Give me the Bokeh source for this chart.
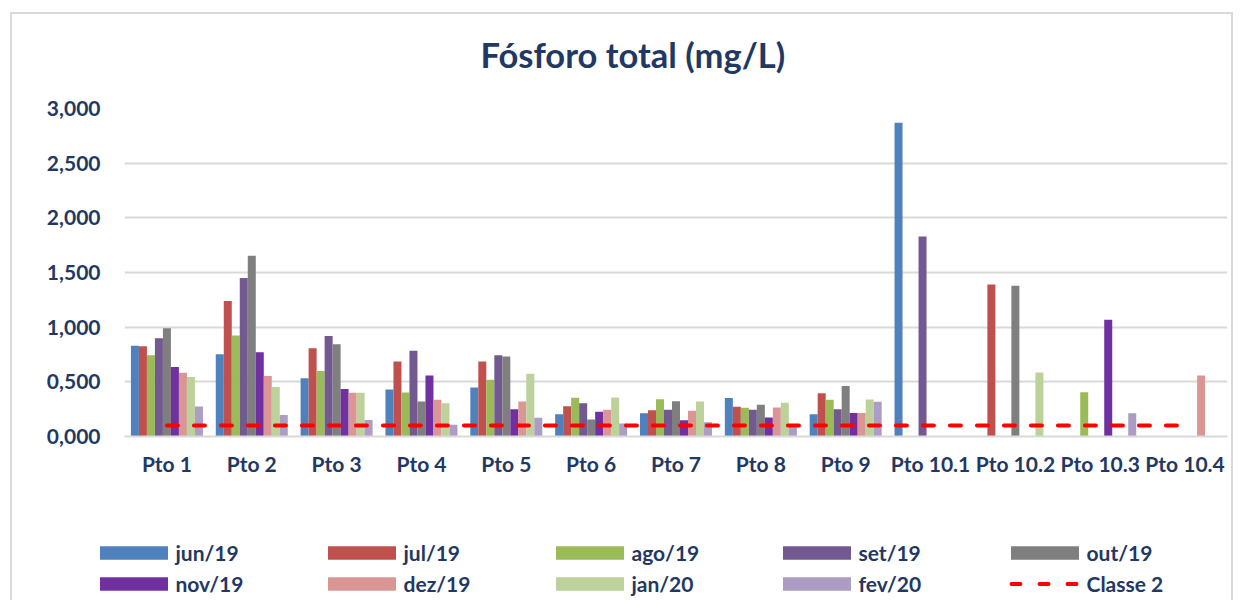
from bokeh.plotting import figure
from bokeh.layouts import column
from bokeh.models import (FactorRange, Range1d, Legend, LegendItem, ColumnDataSource,
                          FixedTicker)
from bokeh.transform import dodge
from bokeh.embed import file_html
from bokeh.resources import INLINE

N = float("nan")

categories = ["Pto 1", "Pto 2", "Pto 3", "Pto 4", "Pto 5", "Pto 6", "Pto 7", "Pto 8",
              "Pto 9", "Pto 10.1", "Pto 10.2", "Pto 10.3", "Pto 10.4"]
series_names = ["jun/19", "jul/19", "ago/19", "set/19", "out/19",
                "nov/19", "dez/19", "jan/20", "fev/20"]

jun19 = [0.829, 0.752, 0.532, 0.430, 0.448, 0.204, 0.213, 0.351, 0.204, 2.869, N, N, N]
jul19 = [0.826, 1.239, 0.807, 0.686, 0.686, 0.277, 0.241, 0.271, 0.396, N, 1.390, N, N]
ago19 = [0.743, 0.924, 0.599, 0.402, 0.518, 0.354, 0.341, 0.262, 0.335, N, N, 0.405, N]
set19 = [0.899, 1.450, 0.920, 0.784, 0.744, 0.305, 0.244, 0.244, 0.250, 1.829, N, N, N]
out19 = [0.991, 1.654, 0.844, 0.320, 0.732, 0.155, 0.323, 0.290, 0.463, N, 1.378, N, N]
nov19 = [0.636, 0.771, 0.434, 0.558, 0.250, 0.226, 0.149, 0.174, 0.216, N, N, 1.067, N]
dez19 = [0.584, 0.554, 0.401, 0.335, 0.320, 0.244, 0.235, 0.265, 0.216, N, N, N, 0.558]
jan20 = [0.544, 0.453, 0.401, 0.305, 0.573, 0.357, 0.320, 0.308, 0.338, N, 0.585, N, N]
fev20 = [0.275, 0.196, 0.150, 0.107, 0.171, 0.119, 0.131, 0.113, 0.317, N, N, 0.213, N]
classe2_name = "Classe 2"
classe2 = [0.1] * 13

y_ticks = [0, 0.5, 1, 1.5, 2, 2.5, 3]
y_tick_labels = ["0,000", "0,500", "1,000", "1,500", "2,000", "2,500", "3,000"]

colors = ["#4F81BD", "#C0504D", "#9BBB59", "#72598F", "#7F7F7F",
          "#7030A0", "#D99694", "#BDD19A", "#AC9DC4"]
NAVY = "#1F3864"
FONT = "Lato"
GRID = "#D9D9D9"

series_values = [jun19, jul19, ago19, set19, out19, nov19, dez19, jan20, fev20]
data = {"cat": categories, "classe2": classe2}
for name, vals in zip(series_names, series_values):
    data[name] = vals
src = ColumnDataSource(data)

W = 1236
xr = FactorRange(*categories, range_padding=0)
p = figure(width=W, height=480, output_backend="svg", toolbar_location=None,
           x_range=xr, y_range=Range1d(0, 3))
p.min_border_left = 124
p.min_border_right = W - 124 - 1103
p.min_border_top = 108
p.min_border_bottom = 480 - 108 - 328
p.outline_line_color = None
p.background_fill_color = None
p.border_fill_color = None

p.title.text = "Fósforo total (mg/L)"
p.title.align = "left"
p.title.offset = 356
p.title.vertical_align = "top"
p.title.standoff = 63
p.title.text_font = FONT
p.title.text_font_size = "34.5px"
p.title.text_font_style = "bold"
p.title.text_color = NAVY

bw = 0.0943
LINE_KW = dict(line_color="#FF0000", line_width=4, line_dash="11 16", line_cap="round")
LEGEND_LINE_KW = dict(line_color="#FF0000", line_width=4, line_dash="9 19",
                      line_dash_offset=19, line_cap="round")


def draw_series(fig, line_kw):
    rs = []
    for i, (name, col) in enumerate(zip(series_names, colors)):
        rs.append(fig.vbar(x=dodge("cat", (i - 4) * bw, range=xr), top=name, width=bw,
                           source=src, fill_color=col, line_color=None))
    rs.append(fig.line(x="cat", y="classe2", source=src, **line_kw))
    return rs


draw_series(p, LINE_KW)

# axes
p.xgrid.grid_line_color = None
p.ygrid.grid_line_color = GRID
p.ygrid.grid_line_width = 2
p.yaxis.ticker = FixedTicker(ticks=y_ticks)
p.yaxis.major_label_overrides = dict(zip(y_ticks, y_tick_labels))
p.yaxis.axis_line_color = None
p.yaxis.major_tick_line_color = None
p.yaxis.minor_tick_line_color = None
p.yaxis.major_label_standoff = 18
p.xaxis.axis_line_color = GRID
p.xaxis.axis_line_width = 2
p.xaxis.major_tick_line_color = None
p.xaxis.minor_tick_line_color = None
p.xaxis.major_label_standoff = 8
for ax in (p.xaxis, p.yaxis):
    ax.major_label_text_font = FONT
    ax.major_label_text_font_size = "21px"
    ax.major_label_text_font_style = "bold"
    ax.major_label_text_color = NAVY

# legend strip: a second figure that holds only the legend; its series are
# the same data, kept outside of its (out of view) y range
LH = 120
lg = figure(width=W, height=LH, output_backend="svg", toolbar_location=None,
            x_axis_type=None, y_axis_type=None,
            x_range=xr, y_range=Range1d(100, 101), min_border=0)
lg.min_border_left = 0
lg.min_border_right = 0
lg.min_border_top = 0
lg.min_border_bottom = 0
if "frame_align" in lg.properties():
    lg.frame_align = False
    p.frame_align = False
lg.outline_line_color = None
lg.background_fill_color = None
lg.border_fill_color = None
lg.grid.visible = False

rends = draw_series(lg, LEGEND_LINE_KW)
labels = series_names + [classe2_name]
col_x = [90.5, 318.5, 546.5, 773.5, 1001.5]
for c in range(5):
    items = [LegendItem(label=labels[c], renderers=[rends[c]]),
             LegendItem(label=labels[c + 5], renderers=[rends[c + 5]])]
    legend = Legend(items=items, orientation="vertical", location=(col_x[c], 4),
                    glyph_width=85, glyph_height=17, label_standoff=0,
                    label_height=26, spacing=5, padding=0, margin=0,
                    border_line_color=None, background_fill_color=None,
                    background_fill_alpha=0,
                    label_text_font=FONT, label_text_font_size="21px",
                    label_text_font_style="bold", label_text_color=NAVY)
    lg.add_layout(legend, "center")

border_css = {
    "background-image": ("linear-gradient(#D9D9D9,#D9D9D9), "
                         "linear-gradient(#D9D9D9,#D9D9D9), "
                         "linear-gradient(#D9D9D9,#D9D9D9)"),
    "background-size": "1223px 2px, 2px 100%, 2px 100%",
    "background-position": "10px 12px, 10px 12px, 1231px 12px",
    "background-repeat": "no-repeat",
}
layout = column(p, lg, spacing=0, styles=border_css)

open("out.html", "w").write(file_html(layout, INLINE))
